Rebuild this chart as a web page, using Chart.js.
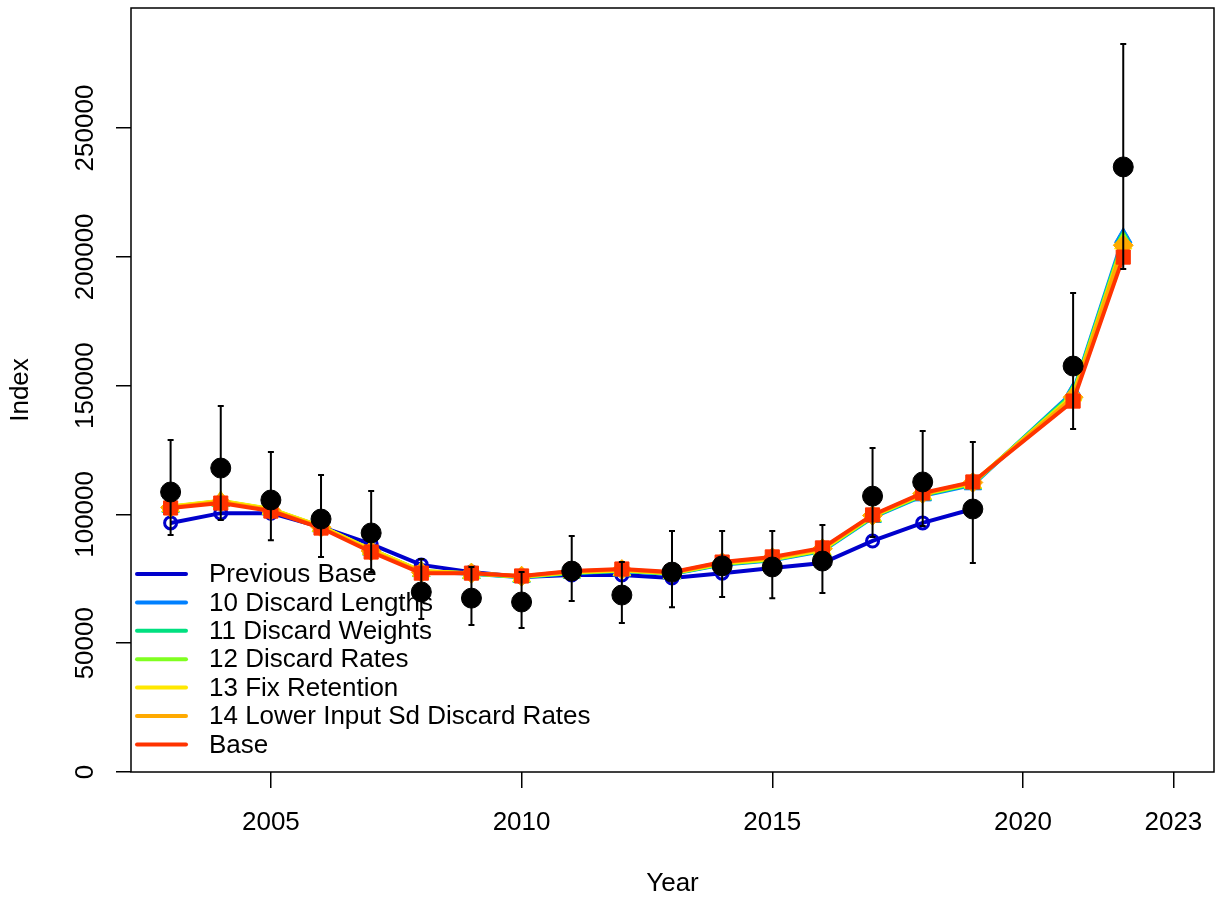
<!DOCTYPE html>
<html>
<head>
<meta charset="utf-8">
<title>Index fits</title>
<script src="https://cdn.jsdelivr.net/npm/chart.js@4/dist/chart.umd.min.js"></script>
<style>
  html, body { margin: 0; padding: 0; overflow: hidden; background: #fff; }
  #wrap { position: absolute; left: 0; top: 0; width: 1216px; height: 900px; }
</style>
</head>
<body>
<div id="wrap"><canvas id="chart"></canvas></div>
<script>
// === Data ===
const years = [2003, 2004, 2005, 2006, 2007, 2008, 2009, 2010, 2011, 2012, 2013, 2014, 2015, 2016, 2017, 2018, 2019, 2021, 2022];
const xTicks = [2005, 2010, 2015, 2020, 2023];
const yTicks = [0, 50000, 100000, 150000, 200000, 250000];

const obs     = [108700, 118000, 105600, 98200, 92800, 69900, 67500, 66000, 78000, 68700, 77600, 80000, 79600, 81900, 107100, 112600, 102100, 157600, 234900];
const obsLow  = [92000, 97800, 90000, 83500, 77600, 59400, 57100, 55900, 66400, 57800, 64000, 67900, 67500, 69500, 91200, 95500, 81100, 133200, 195300];
const obsHigh = [128900, 142100, 124200, 115300, 109100, 82700, 79600, 77600, 91600, 81500, 93600, 93600, 93600, 95900, 125800, 132400, 128100, 186000, 282600];

const prevBase     = [96700, 100500, 100500, 95100, 88500, 80400, 77600, 75700, 76500, 76500, 75300, 77200, 79200, 81100, 89700, 96700, 102100, null, null];
const discLengths  = [102800, 105000, 101800, 95200, 86200, 77800, 77000, 75600, 77200, 78000, 76900, 80500, 82200, 85800, 98800, 107200, 111500, 147500, 207500];
const discWeights  = [102900, 105100, 101900, 95300, 86300, 77900, 77100, 75700, 77300, 78100, 77000, 80700, 82400, 86000, 99000, 107500, 111800, 147000, 206500];
const discRates    = [103000, 105200, 102000, 95300, 86300, 77900, 77100, 75800, 77400, 78200, 77100, 80800, 82500, 86100, 99200, 107700, 112000, 146500, 206000];
const fixRetention = [103100, 105300, 102100, 95400, 86400, 78000, 77200, 75900, 77500, 78300, 77200, 81000, 82700, 86300, 99400, 107900, 112200, 146000, 205000];
const lowerSd      = [102700, 104800, 101600, 95000, 85800, 77500, 77200, 76000, 77800, 78600, 77400, 81300, 83200, 86700, 99600, 108100, 112400, 145500, 204500];
const base         = [102500, 104400, 101300, 94700, 85400, 77200, 77200, 76100, 78000, 78800, 77600, 81500, 83500, 87000, 99800, 108300, 112600, 144000, 199900];

const modelNames  = ["Previous Base", "10 Discard Lengths", "11 Discard Weights", "12 Discard Rates", "13 Fix Retention", "14 Lower Input Sd Discard Rates", "Base"];
const modelSeries = [prevBase, discLengths, discWeights, discRates, fixRetention, lowerSd, base];
const modelColors = ["#0000CC", "#0080FF", "#00E080", "#80FF20", "#FFE800", "#FFAA00", "#FF3300"];
const modelPoints = ["circle", "triangle", "triangle", "triangle", "triangle", "rectRot", "rect"];

const FONT = "'Liberation Sans', Arial, sans-serif";
const FSIZE = 26;

const toXY = (vals) => years.map((y, i) => ({ x: y, y: vals[i] }));

// === Datasets (index 0 drawn on top) ===
const datasets = [
  {
    label: "Observed",
    data: toXY(obs),
    showLine: false,
    pointRadius: 10,
    pointHoverRadius: 10,
    pointBackgroundColor: "#000",
    pointBorderColor: "#000",
    borderColor: "#000",
  },
];
for (let i = modelSeries.length - 1; i >= 0; i--) {
  const open = modelPoints[i] === "circle";
  datasets.push({
    label: modelNames[i],
    data: toXY(modelSeries[i]),
    borderColor: modelColors[i],
    borderWidth: 4,
    spanGaps: false,
    tension: 0,
    pointStyle: modelPoints[i],
    pointRadius: open ? 6 : 10,
    pointBorderWidth: open ? 3 : 1,
    pointBackgroundColor: open ? "rgba(0,0,0,0)" : modelColors[i],
    pointBorderColor: modelColors[i],
  });
}

// === Error bars on the observations ===
const errorBars = {
  id: "errorBars",
  afterDatasetsDraw(chart) {
    const { ctx, scales: { x, y } } = chart;
    ctx.save();
    ctx.strokeStyle = "#000";
    ctx.lineWidth = 2;
    years.forEach((yr, i) => {
      const px = x.getPixelForValue(yr);
      const top = y.getPixelForValue(obsHigh[i]);
      const bot = y.getPixelForValue(obsLow[i]);
      ctx.beginPath();
      ctx.moveTo(px, top); ctx.lineTo(px, bot);
      ctx.moveTo(px - 3, top); ctx.lineTo(px + 3, top);
      ctx.moveTo(px - 3, bot); ctx.lineTo(px + 3, bot);
      ctx.stroke();
    });
    ctx.restore();
  },
};

// === Box, rotated y labels, legend ===
const decorations = {
  id: "decorations",
  afterDraw(chart) {
    const { ctx, chartArea: a, scales: { y } } = chart;
    ctx.save();
    ctx.strokeStyle = "#000";
    ctx.lineWidth = 1.5;
    ctx.strokeRect(a.left, a.top, a.right - a.left, a.bottom - a.top);

    ctx.fillStyle = "#000";
    ctx.font = FSIZE + "px " + FONT;
    ctx.textAlign = "center";
    ctx.textBaseline = "middle";
    y.ticks.forEach((t) => {
      const py = y.getPixelForValue(t.value);
      ctx.save();
      ctx.translate(86, py);
      ctx.rotate(-Math.PI / 2);
      ctx.fillText(String(t.value), 0, 0);
      ctx.restore();
    });

    // legend, no frame, bottom-left of the plot
    ctx.textAlign = "left";
    ctx.lineWidth = 4;
    ctx.lineCap = "round";
    modelNames.forEach((name, i) => {
      const ly = 574 + i * 28.4;
      ctx.strokeStyle = modelColors[i];
      ctx.beginPath();
      ctx.moveTo(137, ly); ctx.lineTo(186, ly);
      ctx.stroke();
      ctx.fillText(name, 209, ly + 1);
    });
    ctx.restore();
  },
};

new Chart(document.getElementById("chart"), {
  type: "line",
  data: { datasets },
  plugins: [errorBars, decorations],
  options: {
    responsive: true,
    maintainAspectRatio: false,
    animation: false,
    layout: { autoPadding: false, padding: { top: 8, right: 2, left: 0, bottom: 0 } },
    plugins: { legend: { display: false }, tooltip: { enabled: false } },
    scales: {
      x: {
        type: "linear",
        min: 2002.21,
        max: 2023.81,
        afterBuildTicks: (s) => { s.ticks = xTicks.map((v) => ({ value: v })); },
        afterFit: (s) => { s.height = 128; s.paddingLeft = 0; s.paddingRight = 0; },
        border: { display: false },
        grid: { drawOnChartArea: false, drawTicks: true, tickLength: 16, color: "#000", lineWidth: 1.5 },
        ticks: { color: "#000", font: { family: FONT, size: FSIZE }, padding: 19, maxRotation: 0, autoSkip: false, callback: (v) => String(v) },
        title: { display: true, text: "Year", color: "#000", font: { family: FONT, size: FSIZE }, padding: { top: 0, bottom: 1 } },
      },
      y: {
        type: "linear",
        min: 0,
        max: 296600,
        afterBuildTicks: (s) => { s.ticks = yTicks.map((v) => ({ value: v })); },
        afterFit: (s) => { s.width = 131; s.paddingTop = 0; s.paddingBottom = 0; },
        border: { display: false },
        grid: { drawOnChartArea: false, drawTicks: true, tickLength: 15, color: "#000", lineWidth: 1.5 },
        ticks: { display: false },
        title: { display: true, text: "Index", color: "#000", font: { family: FONT, size: FSIZE }, padding: { top: 5, bottom: 0 } },
      },
    },
  },
});
</script>
</body>
</html>
